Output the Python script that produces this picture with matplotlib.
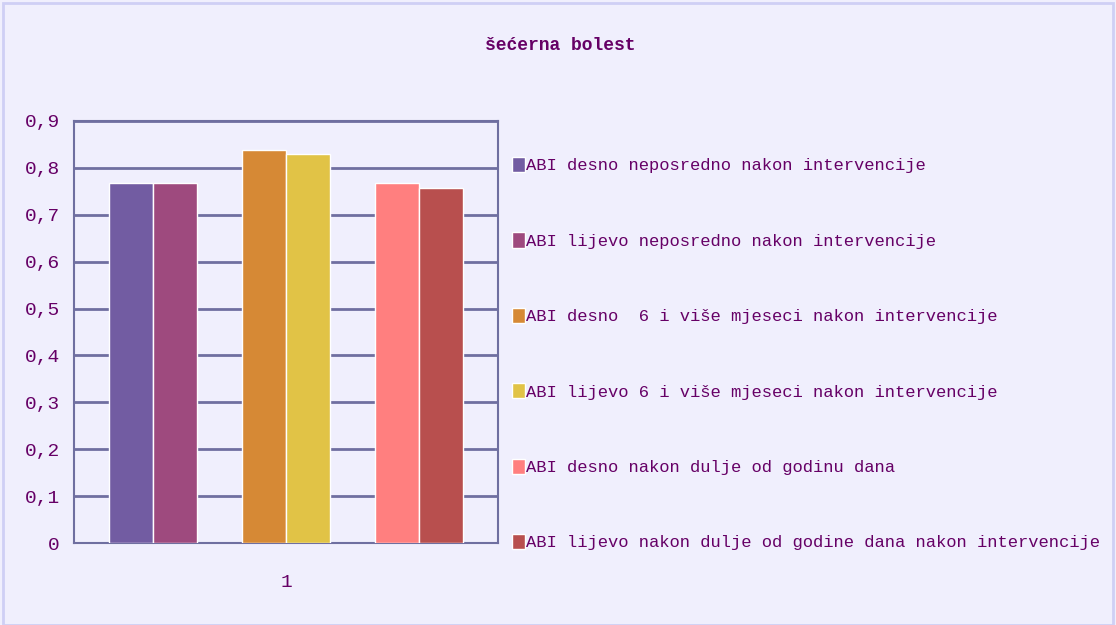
#!/usr/bin/env python3
"""Grouped bar chart: ABI values for 'šećerna bolest'."""

import matplotlib
matplotlib.use("Agg")
import matplotlib.pyplot as plt
from matplotlib.patches import Rectangle

# Data
CATEGORIES = ["1"]
SERIES_LABELS = [
    "ABI desno neposredno nakon intervencije",
    "ABI lijevo neposredno nakon intervencije",
    "ABI desno  6 i više mjeseci nakon intervencije",
    "ABI lijevo 6 i više mjeseci nakon intervencije",
    "ABI desno nakon dulje od godinu dana",
    "ABI lijevo nakon dulje od godine dana nakon intervencije",
]
SERIES_VALUES = [0.767, 0.767, 0.839, 0.830, 0.767, 0.758]
SERIES_COLORS = ["#725ca2", "#9e4a7e", "#d68935", "#e1c346", "#ff7f7f", "#b84f4e"]
Y_TICKS = [0, 0.1, 0.2, 0.3, 0.4, 0.5, 0.6, 0.7, 0.8, 0.9]
Y_TICK_LABELS = ["0", "0,1", "0,2", "0,3", "0,4", "0,5", "0,6", "0,7", "0,8", "0,9"]
TITLE = "šećerna bolest"

# Style
FONT = ["Liberation Mono", "DejaVu Sans Mono"]
TEXT_COLOR = "#660066"
GRID_COLOR = "#6f6fa0"
BG_COLOR = "#f0effd"
BORDER_COLOR = "#cfcff5"

# Bars sit in slots 0,1 / 3,4 / 6,7 of an 8-slot category (gaps between pairs)
SLOTS = [0, 1, 3, 4, 6, 7]
N_SLOTS = 8
GROUP_GAP = 0.0825  # fraction of category width left on each side

fig = plt.figure(figsize=(11.16, 6.25), dpi=100, facecolor=BG_COLOR)
fig.patches.append(Rectangle((0.003, 0.0), 0.994, 0.995, transform=fig.transFigure,
                             fill=False, edgecolor=BORDER_COLOR, linewidth=2))

ax = fig.add_axes([74 / 1116, 82 / 625, 424 / 1116, 422 / 625])
ax.set_facecolor(BG_COLOR)

slot_w = (1 - 2 * GROUP_GAP) / N_SLOTS
bars = []
for i, (label, val, col) in enumerate(zip(SERIES_LABELS, SERIES_VALUES, SERIES_COLORS)):
    x = -0.5 + GROUP_GAP + (SLOTS[i] + 0.5) * slot_w
    b = ax.bar(x, val, width=slot_w, color=col, edgecolor="white", linewidth=1,
               label=label, zorder=3)
    bars.append(b)

ax.set_xlim(-0.5, 0.5)
ax.set_ylim(0, 0.9)
ax.set_xticks(range(len(CATEGORIES)))
ax.set_xticklabels(CATEGORIES)
ax.set_yticks(Y_TICKS)
ax.set_yticklabels(Y_TICK_LABELS)
ax.yaxis.grid(True, color=GRID_COLOR, linewidth=2, zorder=1)
ax.set_axisbelow(True)
ax.tick_params(length=0, labelcolor=TEXT_COLOR, labelsize=14, pad=14)
for lbl in ax.get_xticklabels() + ax.get_yticklabels():
    lbl.set_family(FONT)
ax.tick_params(axis="y", pad=10)
ax.tick_params(axis="x", pad=22)
for sp in ax.spines.values():
    sp.set_color(GRID_COLOR)
    sp.set_linewidth(1.5)

fig.text(560 / 1116, 1 - 45 / 625, TITLE, ha="center", va="center",
         color=TEXT_COLOR, fontsize=13, fontweight="bold", family=FONT)

leg = fig.legend(handles=bars, labels=SERIES_LABELS, loc="upper left",
                 bbox_to_anchor=(505 / 1116, 1 - 150 / 625), frameon=False,
                 prop={"family": FONT, "size": 12.3}, labelcolor=TEXT_COLOR,
                 handlelength=0.75, handleheight=1.0, handletextpad=0.1,
                 labelspacing=3.45, borderaxespad=0)

fig.savefig("out.png", dpi=100, facecolor=BG_COLOR)
